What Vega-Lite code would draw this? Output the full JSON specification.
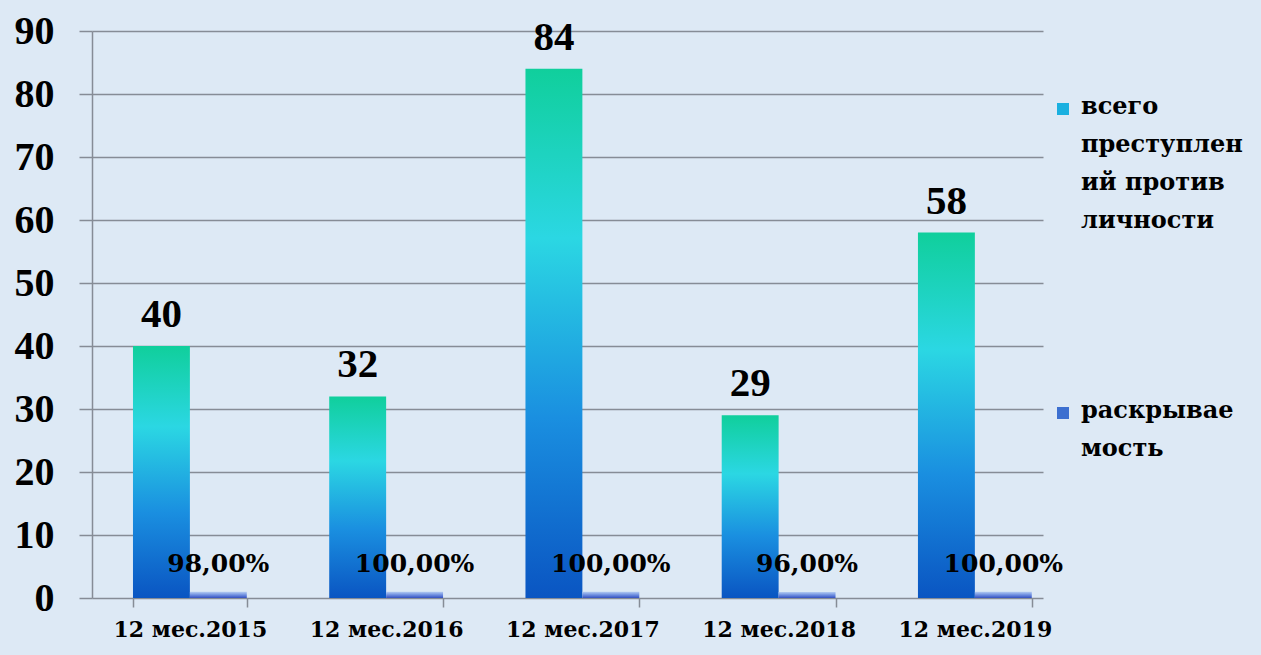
{
  "$schema": "https://vega.github.io/schema/vega-lite/v6.json",
  "width": 951,
  "height": 567,
  "autosize": {"type": "none"},
  "padding": {"left": 92, "top": 31, "right": 218, "bottom": 57},
  "background": "#dde9f5",
  "config": {"view": {"stroke": null}, "font": "Liberation Serif"},
  "data": {
    "values": [
      {"period": "12 мес.2015", "series": "всего преступлений против личности", "value": 40, "label": "40"},
      {"period": "12 мес.2015", "series": "раскрываемость", "value": 0.98, "label": "98,00%"},
      {"period": "12 мес.2016", "series": "всего преступлений против личности", "value": 32, "label": "32"},
      {"period": "12 мес.2016", "series": "раскрываемость", "value": 1.0, "label": "100,00%"},
      {"period": "12 мес.2017", "series": "всего преступлений против личности", "value": 84, "label": "84"},
      {"period": "12 мес.2017", "series": "раскрываемость", "value": 1.0, "label": "100,00%"},
      {"period": "12 мес.2018", "series": "всего преступлений против личности", "value": 29, "label": "29"},
      {"period": "12 мес.2018", "series": "раскрываемость", "value": 0.96, "label": "96,00%"},
      {"period": "12 мес.2019", "series": "всего преступлений против личности", "value": 58, "label": "58"},
      {"period": "12 мес.2019", "series": "раскрываемость", "value": 1.0, "label": "100,00%"}
    ]
  },
  "encoding": {
    "x": {
      "field": "period",
      "type": "nominal",
      "sort": null,
      "scale": {"paddingInner": 0.42, "paddingOuter": 0.133, "align": 0.785},
      "axis": {
        "title": null,
        "labelAngle": 0,
        "labelFont": "DejaVu Serif",
        "labelFontSize": 22,
        "labelFontWeight": "bold",
        "labelColor": "black",
        "labelPadding": 12,
        "domain": false,
        "ticks": true,
        "tickBand": "extent",
        "tickSize": 9,
        "tickColor": "#868c96",
        "tickWidth": 1.5,
        "grid": false
      }
    },
    "xOffset": {
      "field": "series",
      "type": "nominal",
      "sort": ["всего преступлений против личности", "раскрываемость"],
      "scale": {"paddingInner": 0, "paddingOuter": 0}
    },
    "y": {
      "field": "value",
      "type": "quantitative",
      "scale": {"domain": [0, 90], "nice": false},
      "axis": {
        "title": null,
        "values": [0, 10, 20, 30, 40, 50, 60, 70, 80, 90],
        "grid": true,
        "gridColor": "#868c96",
        "gridWidth": 1.5,
        "domainColor": "#868c96",
        "domainWidth": 1.5,
        "tickColor": "#868c96",
        "tickSize": 13,
        "tickWidth": 1.5,
        "labelFont": "Liberation Serif",
        "labelFontSize": 40,
        "labelFontWeight": "bold",
        "labelColor": "black",
        "labelPadding": 25
      }
    }
  },
  "layer": [
    {
      "transform": [{"filter": "datum.series == 'всего преступлений против личности'"}],
      "mark": {
        "type": "bar",
        "color": {
          "gradient": "linear", "x1": 0, "y1": 0, "x2": 0, "y2": 1,
          "stops": [
            {"offset": 0, "color": "#10cf9c"},
            {"offset": 0.32, "color": "#2bd7e3"},
            {"offset": 0.66, "color": "#1a8fe0"},
            {"offset": 1, "color": "#0a55c2"}
          ]
        }
      }
    },
    {
      "transform": [{"filter": "datum.series == 'раскрываемость'"}],
      "mark": {
        "type": "bar",
        "color": {
          "gradient": "linear", "x1": 0, "y1": 0, "x2": 0, "y2": 1,
          "stops": [
            {"offset": 0, "color": "#b4ccf2"},
            {"offset": 0.5, "color": "#6f8fe0"},
            {"offset": 1, "color": "#3450c0"}
          ]
        }
      }
    },
    {
      "transform": [{"filter": "datum.series == 'всего преступлений против личности'"}],
      "mark": {"type": "text", "baseline": "alphabetic", "align": "center", "dy": -19, "fontWeight": "bold", "color": "black", "font": "Liberation Serif", "fontSize": 41},
      "encoding": {"text": {"field": "label"}}
    },
    {
      "transform": [{"filter": "datum.series == 'раскрываемость'"}],
      "mark": {"type": "text", "baseline": "alphabetic", "align": "center", "dy": -20, "fontWeight": "bold", "color": "black", "font": "DejaVu Serif", "fontSize": 25},
      "encoding": {"text": {"field": "label"}}
    },
    {
      "mark": {"type": "square", "opacity": 0, "size": 144},
      "encoding": {
        "y": {"datum": 0},
        "color": {
          "field": "series",
          "type": "nominal",
          "sort": ["всего преступлений против личности", "раскрываемость"],
          "scale": {"range": ["#1ab0e0", "#3c6fd0"]},
          "legend": {
            "title": null,
            "orient": "none",
            "legendX": 959,
            "legendY": 66,
            "direction": "vertical",
            "symbolType": "square",
            "symbolSize": 144,
            "symbolOpacity": 1,
            "symbolStrokeWidth": 0,
            "labelFont": "DejaVu Serif",
            "labelFontSize": 24,
            "labelFontWeight": "bold",
            "labelColor": "black",
            "labelLimit": 300,
            "labelOffset": 6,
            "labelBaseline": "top",
            "rowPadding": 166,
            "labelExpr": "datum.value == 'раскрываемость' ? ['раскрывае', 'мость'] : ['всего', 'преступлен', 'ий против', 'личности']",
            "encode": {
              "labels": {"update": {"lineHeight": {"value": 38}, "dy": {"value": -14}}},
              "symbols": {"update": {"opacity": {"value": 1}}}
            }
          }
        }
      }
    }
  ]
}
